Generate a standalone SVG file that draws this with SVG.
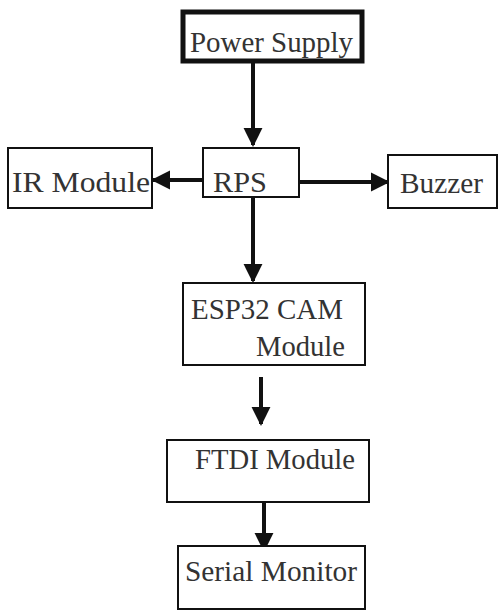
<svg xmlns="http://www.w3.org/2000/svg" width="499" height="610" viewBox="0 0 499 610">
<style>
.box{fill:#fff;stroke:#111;stroke-width:2}
.thick{fill:#fff;stroke:#111;stroke-width:5}
.t{font-family:"Liberation Serif","Times New Roman",serif;font-size:29px;fill:#333}
.c{stroke:#111;stroke-width:4;fill:none}
</style>
<defs>
<marker id="ah" viewBox="0 0 10 10" refX="9" refY="5" markerWidth="4.8" markerHeight="4.8" orient="auto" markerUnits="strokeWidth">
<path d="M0,0 L10,5 L0,10 z" fill="#111"/>
</marker>
</defs>
<rect width="499" height="610" fill="#fff"/>
<g id="connectors">
<line class="c" x1="253" y1="63" x2="253" y2="145" marker-end="url(#ah)"/>
<line class="c" x1="203" y1="180" x2="153" y2="180" marker-end="url(#ah)"/>
<line class="c" x1="299" y1="182" x2="388" y2="182" marker-end="url(#ah)"/>
<line class="c" x1="253" y1="197" x2="253" y2="281" marker-end="url(#ah)"/>
<line class="c" x1="261" y1="377" x2="261" y2="424" marker-end="url(#ah)"/>
<line class="c" x1="264" y1="502" x2="264" y2="550" marker-end="url(#ah)"/>
</g>
<g id="power-supply">
<rect class="thick" x="183" y="12" width="179" height="49"/>
<text class="t" x="190" y="52" textLength="163" lengthAdjust="spacingAndGlyphs">Power Supply</text>
</g>
<g id="ir-module">
<rect class="box" x="8" y="148" width="144" height="60"/>
<text class="t" x="12" y="192" textLength="138" lengthAdjust="spacingAndGlyphs">IR Module</text>
</g>
<g id="rps">
<rect class="box" x="203" y="148" width="96" height="49"/>
<text class="t" x="213" y="192" textLength="54" lengthAdjust="spacingAndGlyphs">RPS</text>
</g>
<g id="buzzer">
<rect class="box" x="388" y="155" width="109" height="53"/>
<text class="t" x="400" y="193" textLength="83" lengthAdjust="spacingAndGlyphs">Buzzer</text>
</g>
<g id="esp32">
<rect class="box" x="183" y="283" width="182" height="82"/>
<text class="t" x="191" y="319" textLength="152" lengthAdjust="spacingAndGlyphs">ESP32 CAM</text>
<text class="t" x="256" y="356" textLength="89" lengthAdjust="spacingAndGlyphs">Module</text>
</g>
<g id="ftdi">
<rect class="box" x="167" y="440" width="202" height="62"/>
<text class="t" x="195" y="469" textLength="160" lengthAdjust="spacingAndGlyphs">FTDI Module</text>
</g>
<g id="serial-monitor">
<rect class="box" x="178" y="546" width="187" height="63"/>
<text class="t" x="185" y="581" textLength="172" lengthAdjust="spacingAndGlyphs">Serial Monitor</text>
</g>
</svg>
